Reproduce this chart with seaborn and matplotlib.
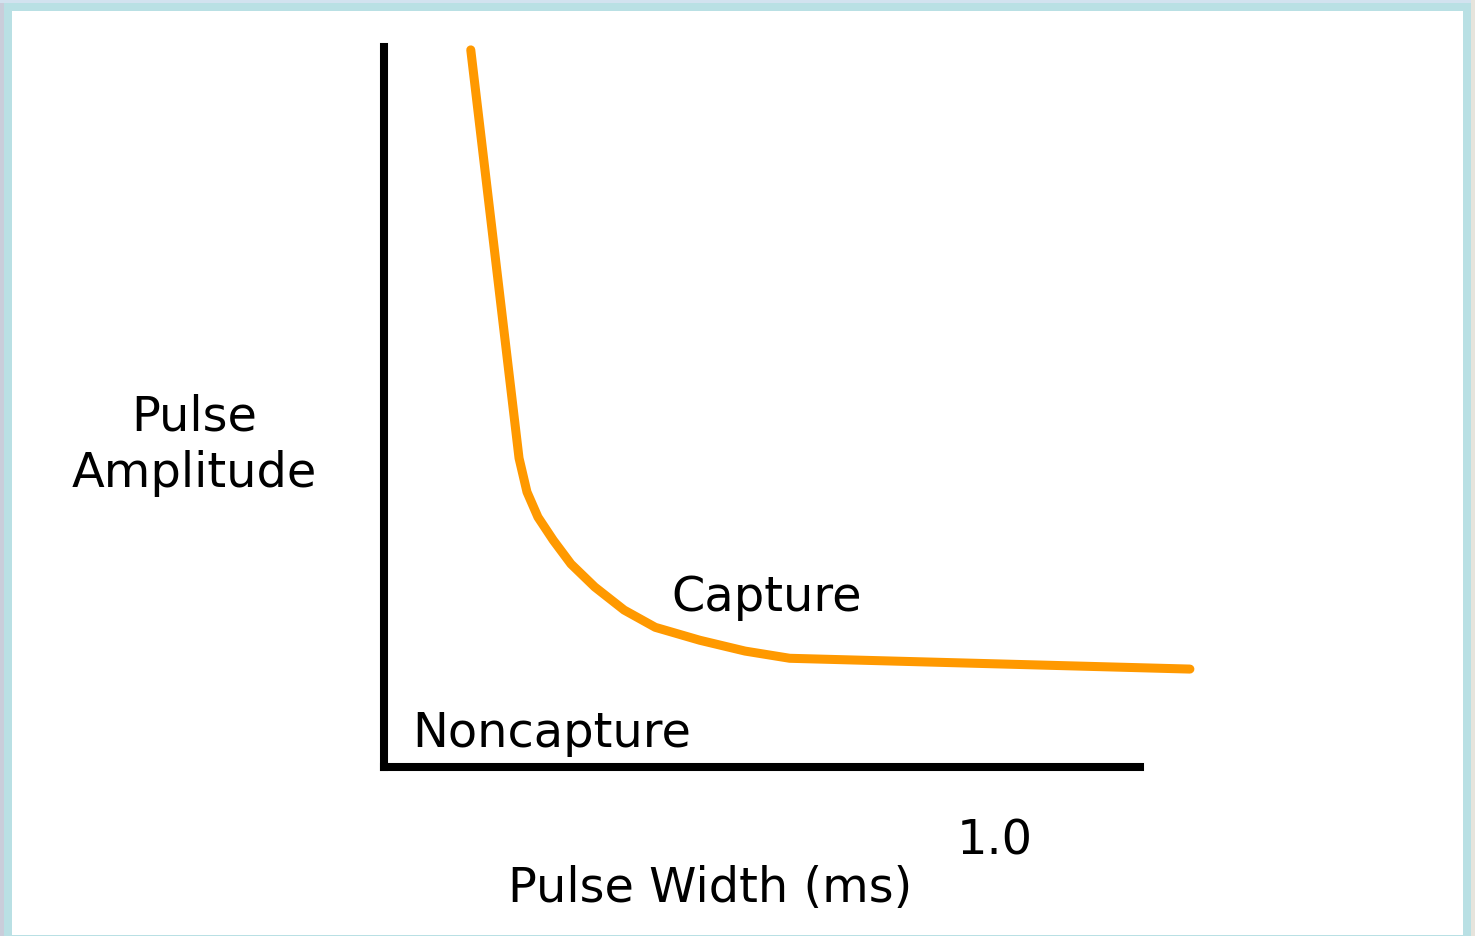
import matplotlib
matplotlib.use("Agg")
from matplotlib import pyplot as plt
from matplotlib.patches import Rectangle
import seaborn as sns
import pandas as pd

# strength-duration curve
pulse_width = [0.142, 0.221, 0.234, 0.252, 0.277, 0.306, 0.345, 0.393,
               0.444, 0.517, 0.591, 0.664, 1.319]
pulse_amplitude = [9.96, 4.29, 3.82, 3.47, 3.15, 2.82, 2.50, 2.18,
                   1.94, 1.76, 1.61, 1.51, 1.36]
tick_label = "1.0"
tick_value = 1.0

df = pd.DataFrame({"width": pulse_width, "amplitude": pulse_amplitude})

sns.set_style("white")
plt.rcParams['font.family'] = ['DejaVu Sans']
plt.rcParams['text.color'] = 'black'

W, H = 1475, 936
fig = plt.figure(figsize=(W / 100, H / 100), dpi=100)
fig.patch.set_facecolor("#b9e0e4")


def frame_rect(x0, y0, x1, y1, color):
    # rectangle given in pixels, top-left origin
    fig.patches.append(Rectangle((x0 / W, 1 - y1 / H), (x1 - x0) / W,
                                 (y1 - y0) / H, transform=fig.transFigure,
                                 facecolor=color, edgecolor="none",
                                 zorder=-1))


frame_rect(0, 0, 4, H, "#c9cdda")
frame_rect(0, 0, W, 3, "#d2e2ef")
frame_rect(1471, 0, W, H, "#e6e4dc")
# white slide area inside the cyan frame
frame_rect(12, 11, 1463, 935, "white")

ax = fig.add_axes([384 / W, 169 / H, 756 / W, 720 / H])
ax.set_facecolor("none")

sns.lineplot(data=df, x="width", y="amplitude", ax=ax, sort=False,
             color="#ff9900", linewidth=6.5, clip_on=False,
             solid_capstyle="round", solid_joinstyle="round")

ax.set_xlim(0, 756 / 611)
ax.set_ylim(0, 10)
ax.set_xticks([])
ax.set_yticks([])
ax.set_xlabel("")
ax.set_ylabel("")
for side in ["top", "right"]:
    ax.spines[side].set_visible(False)
for side in ["left", "bottom"]:
    ax.spines[side].set_linewidth(5.8)
    ax.spines[side].set_color("black")
    ax.spines[side].set_capstyle("projecting")

fs = 34.5
fig.text(194 / W, 1 - 445 / H, "Pulse\nAmplitude", ha="center",
         va="center", fontsize=fs, linespacing=1.25)
ax.text(tick_value, -1.03, tick_label, ha="center", va="center", fontsize=fs)
fig.text(710 / W, 1 - 889 / H, "Pulse Width (ms)", ha="center",
         va="center", fontsize=fs)
ax.text(0.627, 2.36, "Capture", ha="center", va="center", fontsize=fs)
ax.text(0.047, 0.47, "Noncapture", ha="left", va="center", fontsize=fs)

fig.savefig("out.png", dpi=100, facecolor=fig.get_facecolor())
